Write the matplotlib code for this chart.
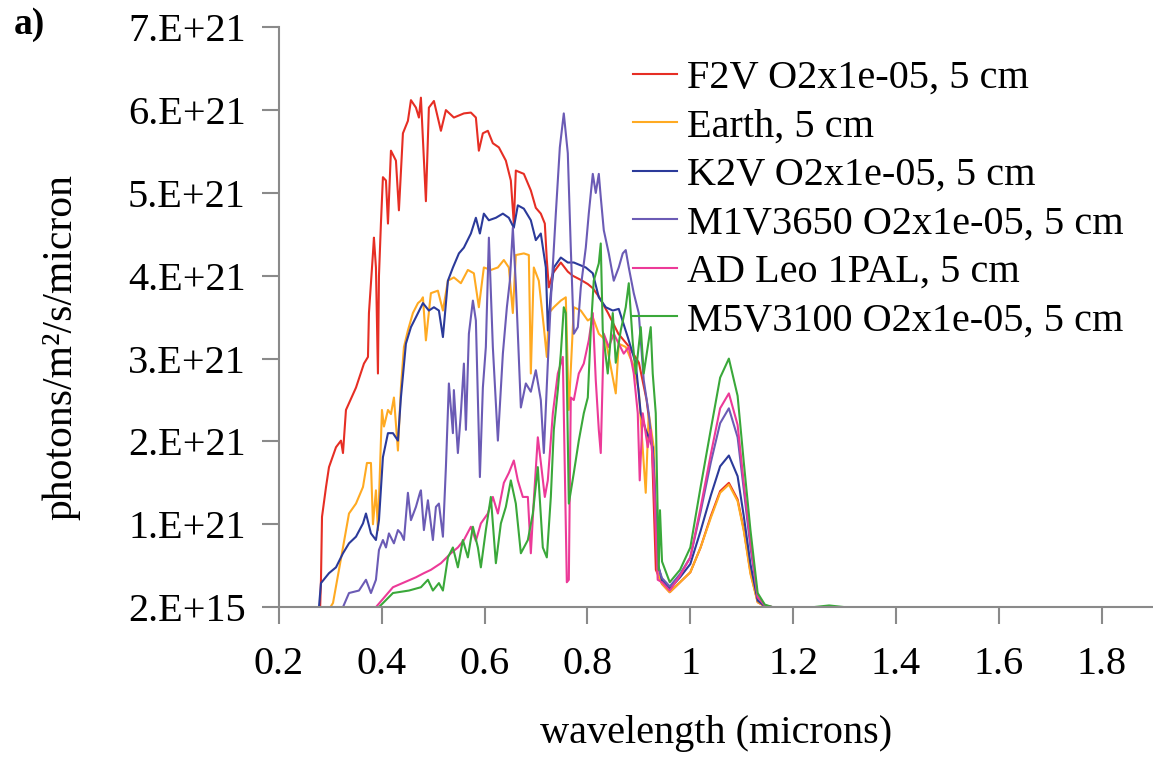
import numpy as np
import matplotlib
matplotlib.use("Agg")
import matplotlib.pyplot as plt

plt.rcParams['font.family'] = ['Liberation Serif', 'DejaVu Serif']

# values in units of 1e21 photons/m2/s/micron
win_lam = [0.945, 0.96, 0.98, 1.0, 1.02, 1.04, 1.058, 1.075, 1.092, 1.104, 1.117, 1.131, 1.145, 1.16]

f2v_lam = [0.2, 0.28, 0.2816, 0.2836, 0.2914, 0.2972, 0.3108, 0.3205, 0.3244, 0.3302, 0.3497, 0.3652,
           0.373, 0.3749, 0.3827, 0.3846, 0.3885, 0.3924, 0.3944, 0.3982, 0.4021, 0.408, 0.4119,
           0.4177, 0.4274, 0.4332, 0.441, 0.4507, 0.4566, 0.4663, 0.4721, 0.476, 0.4857, 0.4915,
           0.5013, 0.5149, 0.5246, 0.5401, 0.5596, 0.5732, 0.5829, 0.5887, 0.5965, 0.6062, 0.6159,
           0.6276, 0.6412, 0.6509, 0.6567, 0.6606, 0.6762, 0.6898, 0.6995, 0.7092, 0.717, 0.7209,
           0.7248, 0.7326, 0.7481, 0.7617, 0.7714, 0.787, 0.8006, 0.8103, 0.822, 0.84, 0.86, 0.88,
           0.90, 0.915, 0.925, 0.933] + win_lam + [1.2]
f2v_val = [0, 0, 0.33, 1.09, 1.45, 1.69, 1.93, 2.01, 1.86, 2.38, 2.65, 2.94,
           3.02, 3.55, 4.27, 4.46, 4.1, 2.82, 4.0, 4.63, 5.19, 5.15, 4.63,
           5.51, 5.39, 4.79, 5.72, 5.87, 6.12, 6.03, 5.91, 6.15, 4.9, 6.03,
           6.11, 5.75, 6.0, 5.91, 5.96, 5.97, 5.91, 5.51, 5.72, 5.75, 5.6,
           5.55, 5.39, 5.15, 4.63, 5.27, 5.23, 5.03, 4.82, 4.75, 4.63, 4.19,
           3.86, 4.03, 4.16, 4.05, 4.0, 3.95, 3.9, 3.85, 3.75, 3.55, 3.3, 3.15,
           2.95, 2.5, 2.0, 0.45] + [0.28, 0.18, 0.3, 0.42, 0.72, 1.1, 1.4, 1.5, 1.3, 0.94, 0.42, 0.06, 0.01, 0] + [0]

earth_lam = [0.2, 0.30, 0.305, 0.3244, 0.3361, 0.3497, 0.3633, 0.371, 0.3788, 0.3827, 0.3885, 0.3924,
             0.4002, 0.4041, 0.4119, 0.4177, 0.4235, 0.4313, 0.4371, 0.443, 0.4507, 0.4604, 0.4702,
             0.476, 0.4799, 0.4857, 0.4954, 0.509, 0.5188, 0.5285, 0.5401, 0.5537, 0.5673, 0.579,
             0.5887, 0.5984, 0.612, 0.6257, 0.6373, 0.647, 0.6548, 0.6606, 0.6762, 0.6859, 0.6898,
             0.6956, 0.7053, 0.7151, 0.7209, 0.7248, 0.7345, 0.7481, 0.7578, 0.7637, 0.7734, 0.787,
             0.8006, 0.8103, 0.822, 0.8356, 0.855, 0.8608, 0.8744, 0.888, 0.8997, 0.9133, 0.9191,
             0.9289, 0.9366] + win_lam + [1.2]
earth_val = [0, 0, 0.05, 0.72, 1.13, 1.25, 1.45, 1.74, 1.74, 1.0, 1.41, 0.93,
             2.38, 2.18, 2.38, 2.33, 2.53, 1.89, 2.65, 3.14, 3.34, 3.55, 3.67,
             3.7, 3.74, 3.22, 3.79, 3.82, 3.58, 3.94, 3.98, 3.91, 4.07, 4.03,
             3.62, 4.1, 4.07, 4.1, 4.19, 4.1, 3.55, 4.25, 4.27, 4.25, 2.82,
             4.1, 3.94, 3.38, 3.02, 3.55, 3.62, 3.7, 3.74, 2.38, 3.62, 3.58,
             3.46, 3.5, 3.3, 3.22, 2.58, 3.18, 3.14, 2.94, 2.62, 1.38, 2.34,
             1.93, 0.41] + [0.28, 0.18, 0.3, 0.42, 0.72, 1.08, 1.38, 1.48, 1.28, 0.92, 0.4, 0.06, 0.01, 0] + [0]

k2v_lam = [0.2, 0.2777, 0.2816, 0.2972, 0.3108, 0.3244, 0.3361, 0.3497, 0.3633, 0.3691, 0.3788, 0.3885,
           0.3944, 0.4021, 0.4119, 0.4216, 0.4313, 0.4371, 0.4468, 0.4566, 0.4663, 0.4799, 0.4915,
           0.5013, 0.511, 0.5188, 0.5285, 0.5383, 0.5499, 0.5596, 0.5732, 0.5829, 0.5907, 0.5984,
           0.6081, 0.6218, 0.6354, 0.647, 0.6567, 0.6645, 0.6762, 0.6898, 0.6995, 0.7092, 0.719,
           0.7229, 0.7287, 0.7345, 0.7481, 0.7617, 0.7734, 0.7967, 0.8103, 0.822, 0.8356, 0.8492,
           0.8608, 0.8783, 0.8939, 0.9036, 0.9133, 0.9269, 0.9366] + win_lam + [1.2]
k2v_val = [0, 0, 0.29, 0.41, 0.48, 0.65, 0.77, 0.85, 1.01, 1.13, 0.89, 0.81,
           1.05, 1.81, 2.1, 2.1, 2.01, 2.53, 3.18, 3.38, 3.5, 3.67, 3.58,
           3.62, 3.58, 3.26, 3.94, 4.1, 4.27, 4.34, 4.51, 4.7, 4.51, 4.75,
           4.67, 4.7, 4.75, 4.7, 4.58, 4.85, 4.81, 4.67, 4.43, 4.51, 4.1,
           3.34, 3.79, 4.1, 4.22, 4.16, 4.16, 4.1, 4.03, 3.74, 3.62, 3.58,
           3.6, 3.26, 2.94, 2.34, 2.14, 1.93, 0.53] + [0.32, 0.22, 0.36, 0.52, 0.92, 1.35, 1.7, 1.83, 1.58, 1.1, 0.52, 0.08, 0.01, 0] + [0]

m1v_lam = [0.2, 0.3244, 0.3361, 0.3555, 0.3691, 0.3788, 0.3885, 0.3944, 0.4021, 0.408, 0.4138, 0.4235,
           0.4313, 0.4371, 0.443, 0.4507, 0.4566, 0.4663, 0.4741, 0.476, 0.4818, 0.4896, 0.4993,
           0.5052, 0.511, 0.5188, 0.5246, 0.5304, 0.5382, 0.5401, 0.5479, 0.5537, 0.5596, 0.5635,
           0.5693, 0.5771, 0.5829, 0.5907, 0.5965, 0.6023, 0.6082, 0.6159, 0.6257, 0.6354, 0.6432,
           0.649, 0.6548, 0.6606, 0.6704, 0.6801, 0.6898, 0.6995, 0.7092, 0.7151, 0.7228, 0.7287,
           0.7384, 0.7462, 0.7539, 0.7617, 0.7675, 0.7734, 0.7812, 0.787, 0.7967, 0.8025, 0.8103,
           0.8161, 0.822, 0.8258, 0.8317, 0.8414, 0.8511, 0.8608, 0.8686, 0.8744, 0.8803, 0.89,
           0.8997, 0.9094, 0.9191, 0.9289, 0.9366] + win_lam + [1.2]
m1v_val = [0, 0, 0.17, 0.2, 0.33, 0.17, 0.33, 0.69, 0.81, 0.72, 0.89, 0.77,
           0.93, 0.89, 0.81, 1.38, 1.05, 1.21, 1.38, 1.41, 0.93, 1.29, 0.81,
           1.21, 1.25, 0.85, 1.69, 2.7, 2.1, 2.62, 1.86, 2.34, 2.94, 2.14,
           3.3, 3.7, 3.46, 1.57, 2.65, 3.14, 4.46, 3.14, 2.01, 3.06, 3.62,
           3.94, 4.58, 3.9, 2.41, 2.7, 2.6, 2.86, 2.5, 1.86, 2.94, 3.7,
           4.75, 5.55, 5.96, 5.48, 4.34, 3.3, 3.38, 3.86, 4.34, 4.75, 5.23,
           5.0, 5.23, 4.95, 4.55, 4.27, 3.94, 4.1, 4.27, 4.31, 4.1, 3.79,
           3.55, 2.74, 2.34, 1.74, 0.5] + [0.35, 0.25, 0.4, 0.6, 1.15, 1.75, 2.22, 2.4, 2.05, 1.42, 0.72, 0.12, 0.02, 0] + [0]

adleo_lam = [0.2, 0.3885, 0.4216, 0.4663, 0.4818, 0.4954, 0.5149, 0.5343, 0.5479, 0.5596, 0.5732, 0.5829,
             0.5926, 0.6062, 0.6159, 0.6257, 0.6373, 0.647, 0.6567, 0.6645, 0.6742, 0.684, 0.6898,
             0.6956, 0.7034, 0.7092, 0.717, 0.7228, 0.7326, 0.7423, 0.752, 0.7598, 0.7637, 0.7675,
             0.7734, 0.7831, 0.7928, 0.8025, 0.8103, 0.8161, 0.822, 0.8258, 0.8317, 0.8414, 0.8511,
             0.8608, 0.8705, 0.8803, 0.89, 0.8978, 0.9016, 0.9075, 0.9172, 0.923, 0.9289, 0.9366] + win_lam + [1.2]
adleo_val = [0, 0, 0.24, 0.36, 0.41, 0.45, 0.53, 0.65, 0.72, 0.81, 0.97, 0.8,
             1.01, 1.13, 1.33, 1.13, 1.5, 1.62, 1.77, 1.53, 1.33, 1.33, 0.65,
             1.29, 2.05, 1.75, 1.33, 1.53, 2.34, 2.82, 3.02, 0.3, 0.33, 2.53,
             2.5, 2.82, 2.94, 3.22, 3.55, 2.74, 2.14, 1.86, 3.3, 3.14, 3.3,
             3.18, 3.06, 3.14, 2.82, 2.34, 1.53, 2.34, 1.93, 2.14, 1.53, 0.33] + [0.3, 0.2, 0.38, 0.6, 1.2, 1.85, 2.4, 2.58, 2.2, 1.5, 0.78, 0.12, 0.02, 0] + [0]

m5v_lam = [0.2, 0.3944, 0.4216, 0.4527, 0.476, 0.4896, 0.4993, 0.511, 0.5188, 0.5285, 0.5382, 0.5479,
           0.5576, 0.5673, 0.5771, 0.5868, 0.5926, 0.6023, 0.612, 0.6218, 0.6315, 0.6412, 0.6509,
           0.6606, 0.6704, 0.684, 0.6937, 0.7034, 0.7131, 0.7209, 0.7287, 0.7345, 0.7423, 0.7481,
           0.7539, 0.7578, 0.7637, 0.7734, 0.7831, 0.7928, 0.8006, 0.8064, 0.8122, 0.822, 0.8258,
           0.8297, 0.8394, 0.8492, 0.855, 0.8647, 0.8744, 0.8803, 0.888, 0.8939, 0.9036, 0.9094,
           0.9172, 0.923, 0.9269, 0.9328, 0.9386, 0.941] + win_lam + [1.24, 1.27, 1.30, 1.9]
m5v_val = [0, 0, 0.17, 0.2, 0.24, 0.33, 0.2, 0.29, 0.2, 0.6, 0.72, 0.48,
           0.81, 0.6, 0.97, 0.72, 0.48, 0.93, 1.33, 0.53, 1.01, 1.21, 1.53,
           1.25, 0.65, 0.81, 1.13, 1.69, 0.72, 0.6, 1.33, 2.14, 2.62, 3.06,
           3.62, 3.55, 1.25, 1.62, 2.01, 2.34, 2.53, 3.34, 3.94, 4.15, 4.39,
           3.34, 2.82, 3.55, 2.95, 3.34, 3.62, 3.91, 3.2, 2.82, 3.38, 2.82,
           3.14, 3.38, 2.82, 2.34, 0.45, 1.17] + [0.55, 0.3, 0.45, 0.72, 1.45, 2.15, 2.77, 3.0, 2.55, 1.75, 0.93, 0.17, 0.03, 0] + [0, 0.02, 0, 0]

series = [
    ("F2V O2x1e-05, 5 cm", f2v_lam, f2v_val, '#e62e24'),
    ("Earth, 5 cm", earth_lam, earth_val, '#ffaa22'),
    ("K2V O2x1e-05, 5 cm", k2v_lam, k2v_val, '#2b3a9a'),
    ("M1V3650 O2x1e-05, 5 cm", m1v_lam, m1v_val, '#6b5bb5'),
    ("AD Leo 1PAL, 5 cm", adleo_lam, adleo_val, '#ec3a98'),
    ("M5V3100 O2x1e-05, 5 cm", m5v_lam, m5v_val, '#3aa83a'),
]

yticks = [2e15, 1e21, 2e21, 3e21, 4e21, 5e21, 6e21, 7e21]
ytick_labels = ['2.E+15', '1.E+21', '2.E+21', '3.E+21', '4.E+21', '5.E+21', '6.E+21', '7.E+21']
xticks = [0.2, 0.4, 0.6, 0.8, 1.0, 1.2, 1.4, 1.6, 1.8]
xtick_labels = ['0.2', '0.4', '0.6', '0.8', '1', '1.2', '1.4', '1.6', '1.8']

fig = plt.figure(figsize=(11.53, 7.57), dpi=100)
ax = fig.add_axes([0.242, 0.198, 0.758, 0.766])

for name, lam, val, col in series:
    ax.plot(lam, np.array(val) * 1e21, color=col, lw=1.5, label=name)

ax.set_xlim(0.2, 1.9)
ax.set_ylim(0, 7e21)
ax.set_xticks(xticks)
ax.set_xticklabels(xtick_labels)
ax.set_yticks(yticks)
ax.set_yticklabels(ytick_labels)

for s in ['top', 'right']:
    ax.spines[s].set_visible(False)
for s in ['left', 'bottom']:
    ax.spines[s].set_color('#8a8a8a')
    ax.spines[s].set_linewidth(1.5)
ax.tick_params(axis='both', direction='out', length=12, width=1.5, color='#8a8a8a', labelsize=29)
ax.tick_params(axis='y', pad=12)
ax.tick_params(axis='x', pad=16)

ax.set_xlabel('wavelength (microns)', fontsize=29, labelpad=23)
fig.text(61 / 1153, 1 - 347 / 757, 'photons/m²/s/micron', rotation=90, ha='center', va='center', fontsize=30)
fig.text(0.012, 0.968, 'a)', fontsize=27, fontweight='bold', va='center', ha='left')

leg = ax.legend(loc='upper left', bbox_to_anchor=(0.405, 0.944), frameon=False, fontsize=29,
                handlelength=1.1, handletextpad=0.25, labelspacing=0.28, borderpad=0, borderaxespad=0)

fig.savefig('out.png', dpi=100)
